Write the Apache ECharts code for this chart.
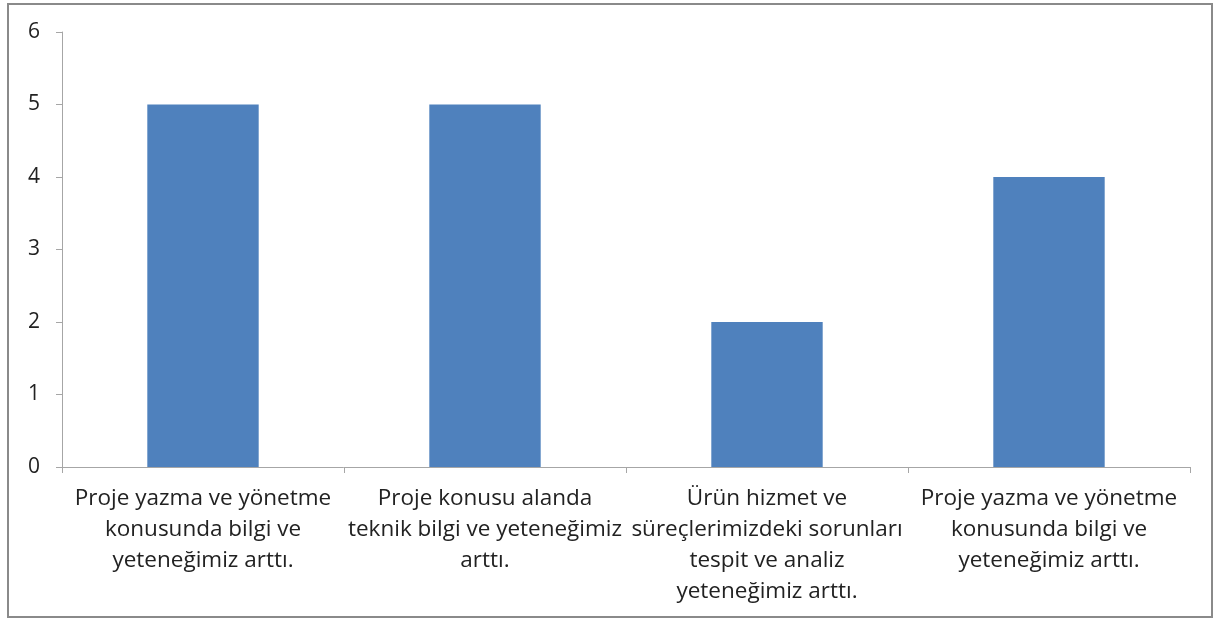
<!DOCTYPE html>
<html><head><meta charset="utf-8">
<script src="https://cdn.jsdelivr.net/npm/echarts@6/dist/echarts.min.js"></script>
<style>
html,body{margin:0;padding:0;background:#fff;}
#frame{position:absolute;left:7px;top:3px;width:1206px;height:615px;border:2px solid #8a8a8a;box-sizing:border-box;}
#c{position:absolute;left:0;top:0;width:1217px;height:626px;}
</style></head>
<body>
<div id="frame"></div>
<div id="c"></div>
<script>
const categories = [
  "Proje yazma ve yönetme\nkonusunda bilgi ve\nyeteneğimiz arttı.",
  "Proje konusu alanda\nteknik bilgi ve yeteneğimiz\narttı.",
  "Ürün hizmet ve\nsüreçlerimizdeki sorunları\ntespit ve analiz\nyeteneğimiz arttı.",
  "Proje yazma ve yönetme\nkonusunda bilgi ve\nyeteneğimiz arttı."
];
const values = [5, 5, 2, 4];
const yTicks = [0, 1, 2, 3, 4, 5, 6];

const chart = echarts.init(document.getElementById('c'), null, {renderer: 'canvas'});
chart.setOption({
  animation: false,
  grid: {left: 62, right: 27, top: 32, bottom: 159, containLabel: false},
  xAxis: {
    type: 'category',
    data: categories.map((c, i) => i + ''),
    axisLine: {lineStyle: {color: '#a6a6a6', width: 1}},
    axisTick: {show: true, alignWithLabel: false, length: 6, lineStyle: {color: '#a6a6a6'}},
    axisLabel: {
      interval: 0,
      margin: 16,
      color: '#222222',
      fontFamily: 'Open Sans',
      fontSize: 22.5,
      lineHeight: 31,
      align: 'center',
      formatter: (v) => categories[+v]
    }
  },
  yAxis: {
    type: 'value',
    min: 0, max: 6, interval: 1,
    axisLine: {show: true, lineStyle: {color: '#a6a6a6', width: 1}},
    axisTick: {show: true, length: 6, lineStyle: {color: '#a6a6a6'}},
    splitLine: {show: false},
    axisLabel: {
      margin: 22,
      color: '#222222',
      fontFamily: 'Open Sans',
      fontSize: 21,
      formatter: (v) => yTicks.includes(v) ? String(v) : ''
    }
  },
  series: [{
    type: 'bar',
    data: values,
    barWidth: '39.5%',
    itemStyle: {color: '#4f81bd'}
  }]
});
</script>
</body></html>
